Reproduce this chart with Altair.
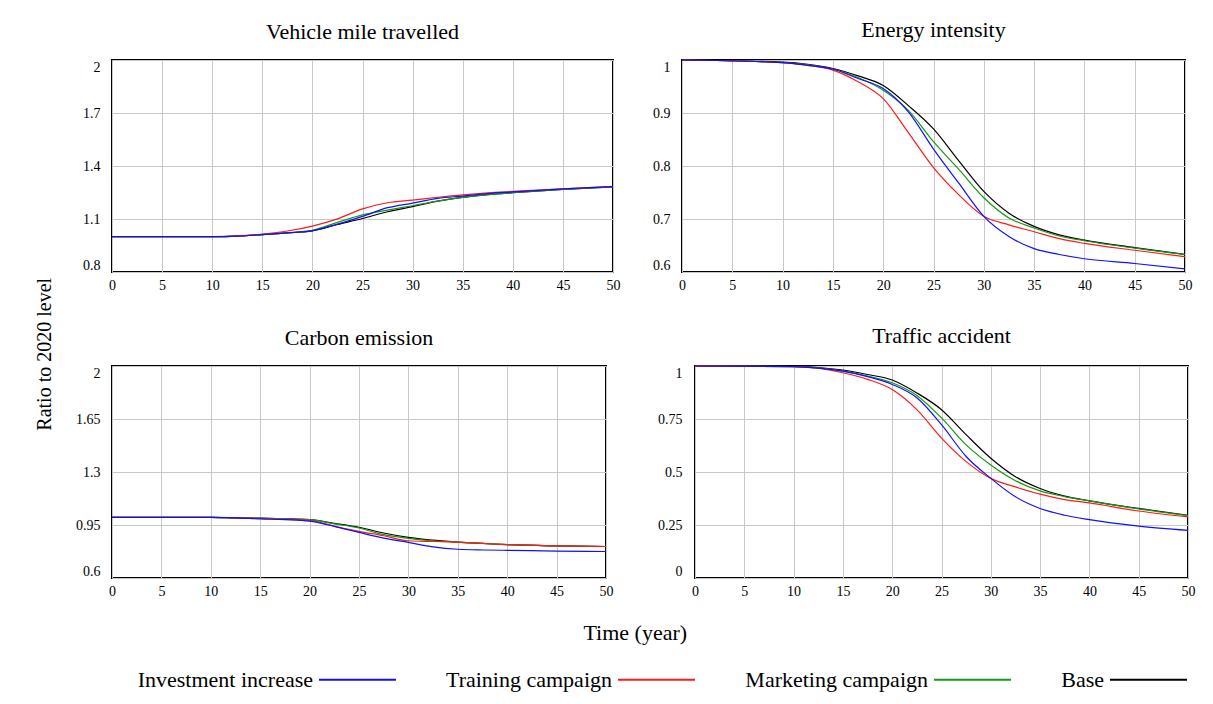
import altair as alt
import pandas as pd

FONT = "Liberation Serif"

SERIES = ["Investment increase", "Training campaign", "Marketing campaign", "Base"]
COLORS = ["#1010ff", "#ff1a1a", "#139a13", "#000000"]
DRAW_ORDER = ["Base", "Marketing campaign", "Training campaign", "Investment increase"]

T = [0, 10, 12.5, 15, 17.5, 20, 22.5, 25, 27.5, 30, 32.5, 35, 37.5, 40, 45, 50]

vmt_invest = [1.0, 1.0, 1.003, 1.012, 1.022, 1.034, 1.071, 1.115, 1.164, 1.19, 1.217, 1.23, 1.244, 1.253, 1.27, 1.283]
vmt_train = [1.0, 1.0, 1.004, 1.015, 1.032, 1.06, 1.101, 1.157, 1.192, 1.207, 1.223, 1.237, 1.248, 1.256, 1.271, 1.285]
vmt_market = [1.0, 1.0, 1.003, 1.012, 1.022, 1.036, 1.081, 1.123, 1.15, 1.175, 1.201, 1.222, 1.238, 1.249, 1.267, 1.282]
vmt_base = [1.0, 1.0, 1.003, 1.012, 1.021, 1.033, 1.069, 1.103, 1.141, 1.17, 1.201, 1.222, 1.238, 1.249, 1.267, 1.282]

ei_invest = [1.0, 0.995, 0.99, 0.983, 0.965, 0.946, 0.902, 0.832, 0.768, 0.705, 0.667, 0.644, 0.633, 0.625, 0.616, 0.606]
ei_train = [1.0, 0.995, 0.99, 0.981, 0.959, 0.927, 0.863, 0.797, 0.746, 0.705, 0.689, 0.676, 0.663, 0.654, 0.641, 0.629]
ei_market = [1.0, 0.995, 0.991, 0.983, 0.967, 0.943, 0.905, 0.846, 0.794, 0.74, 0.702, 0.683, 0.668, 0.659, 0.645, 0.633]
ei_base = [1.0, 0.996, 0.992, 0.984, 0.97, 0.952, 0.914, 0.87, 0.81, 0.752, 0.711, 0.686, 0.67, 0.66, 0.646, 0.633]

ce_invest = [1.0, 1.0, 0.997, 0.99, 0.985, 0.975, 0.941, 0.901, 0.863, 0.835, 0.806, 0.79, 0.785, 0.783, 0.777, 0.775]
ce_train = [1.0, 1.0, 0.997, 0.993, 0.988, 0.98, 0.943, 0.908, 0.879, 0.846, 0.841, 0.837, 0.828, 0.82, 0.812, 0.808]
ce_market = [1.0, 1.0, 0.997, 0.995, 0.99, 0.985, 0.958, 0.93, 0.886, 0.862, 0.845, 0.837, 0.828, 0.82, 0.812, 0.808]
ce_base = [1.0, 1.0, 0.997, 0.995, 0.991, 0.985, 0.961, 0.935, 0.897, 0.868, 0.85, 0.837, 0.828, 0.82, 0.812, 0.808]

ta_invest = [1.0, 0.997, 0.99, 0.976, 0.95, 0.913, 0.85, 0.723, 0.573, 0.47, 0.383, 0.328, 0.296, 0.275, 0.245, 0.225]
ta_train = [1.0, 0.997, 0.99, 0.968, 0.937, 0.889, 0.794, 0.66, 0.549, 0.47, 0.43, 0.396, 0.37, 0.354, 0.316, 0.288]
ta_market = [1.0, 0.997, 0.991, 0.976, 0.953, 0.921, 0.861, 0.755, 0.628, 0.533, 0.459, 0.411, 0.384, 0.364, 0.326, 0.294]
ta_base = [1.0, 0.998, 0.993, 0.981, 0.96, 0.934, 0.873, 0.794, 0.676, 0.565, 0.478, 0.422, 0.386, 0.364, 0.328, 0.296]

X_TICKS = [0, 5, 10, 15, 20, 25, 30, 35, 40, 45, 50]


def make_df(invest, train, market, base):
    d = {"Investment increase": invest, "Training campaign": train,
         "Marketing campaign": market, "Base": base}
    rows = []
    for s in DRAW_ORDER:
        for t, v in zip(T, d[s]):
            rows.append({"t": t, "value": v, "series": s})
    return pd.DataFrame(rows)


legend = alt.Legend(
    orient="none", legendX=206, legendY=580, direction="horizontal", title=None,
    symbolType="stroke", symbolSize=5929, symbolStrokeWidth=2,
    labelFont=FONT, labelFontSize=22, labelColor="black", labelAlign="right",
    labelOffset=alt.ExprRef(expr="-84"), labelLimit=400, columnPadding=46,
)


def panel(title, df, domain, ticks, width, height, lpad):
    return alt.Chart(df).mark_line(strokeWidth=1.2, interpolate="monotone").encode(
        x=alt.X("t:Q", scale=alt.Scale(domain=[0, 50], nice=False),
                axis=alt.Axis(values=X_TICKS, title=None, ticks=False, domain=False,
                              labelPadding=6, labelFontSize=14, labelFont=FONT,
                              labelColor="black", grid=True, gridColor="#c8c8c8",
                              labelFlush=False)),
        y=alt.Y("value:Q", scale=alt.Scale(domain=domain, nice=False, zero=False),
                axis=alt.Axis(values=ticks, format=".3~g", title=None, ticks=False,
                              domain=False, labelFlush=True, labelPadding=lpad,
                              labelFontSize=14, labelFont=FONT, labelColor="black",
                              grid=True, gridColor="#c8c8c8")),
        color=alt.Color("series:N", scale=alt.Scale(domain=SERIES, range=COLORS),
                        legend=legend),
    ).properties(
        width=width, height=height,
        title=alt.TitleParams(title, font=FONT, fontSize=22, fontWeight="normal",
                              color="black", offset=16),
    )


p1 = panel("Vehicle mile travelled", make_df(vmt_invest, vmt_train, vmt_market, vmt_base),
           [0.8, 2.0], [0.8, 1.1, 1.4, 1.7, 2.0], 501, 212, 12)
p2 = panel("Energy intensity", make_df(ei_invest, ei_train, ei_market, ei_base),
           [0.6, 1.0], [0.6, 0.7, 0.8, 0.9, 1.0], 503, 212, 12)
p3 = panel("Carbon emission", make_df(ce_invest, ce_train, ce_market, ce_base),
           [0.6, 2.0], [0.6, 0.95, 1.3, 1.65, 2.0], 494, 212, 12)
p4 = panel("Traffic accident", make_df(ta_invest, ta_train, ta_market, ta_base),
           [0.0, 1.0], [0.0, 0.25, 0.5, 0.75, 1.0], 493, 212, 13)

row1 = alt.hconcat(p1, p2, spacing=30)
row2 = alt.hconcat(p3, p4, spacing=42).properties(
    title=alt.TitleParams("Time (year)", orient="bottom", anchor="middle", font=FONT,
                          fontSize=22, fontWeight="normal", color="black", offset=24)
)

chart = alt.vconcat(row1, row2, spacing=30).properties(
    title=alt.TitleParams("Ratio to 2020 level", orient="left", anchor="middle", font=FONT,
                          fontSize=20, fontWeight="normal", color="black", offset=20),
    padding={"left": 34, "top": 17, "right": 5, "bottom": 5},
).configure_view(
    stroke="black", strokeWidth=2
)

chart.save("out.html", embed_options={"renderer": "svg", "actions": False})
